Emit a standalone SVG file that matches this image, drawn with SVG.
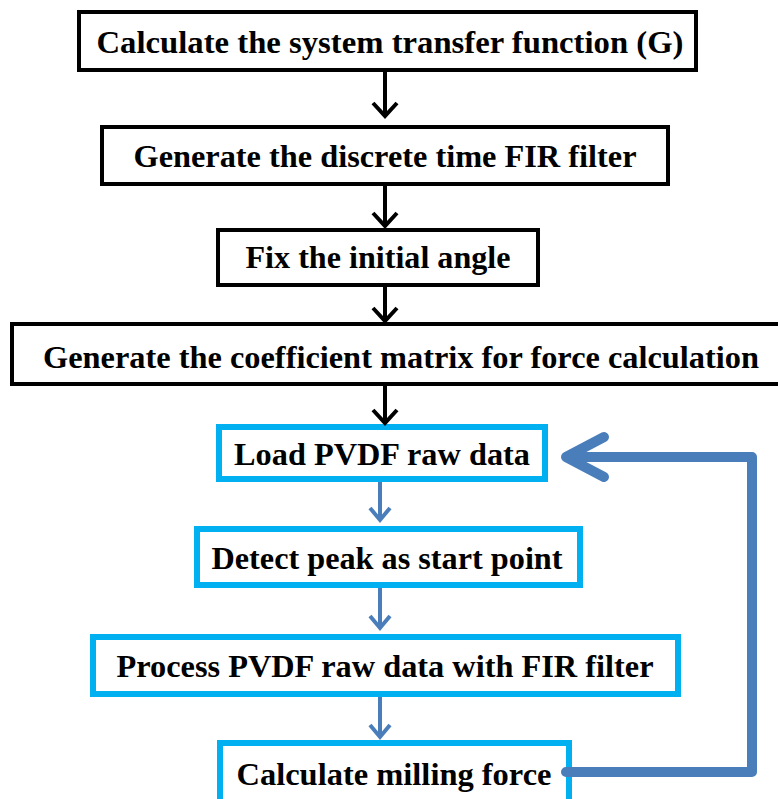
<svg xmlns="http://www.w3.org/2000/svg" width="778" height="799" viewBox="0 0 778 799">
<defs>
<style>
.bk{fill:#fff;stroke:#000;stroke-width:4}
.bl{fill:#fff;stroke:#00B0F0;stroke-width:6}
.t{font-family:"Liberation Serif","Times New Roman",serif;font-weight:bold;font-size:32px;fill:#000;text-anchor:middle}
.ca{fill:none;stroke:#000;stroke-width:4}
.cb{fill:none;stroke:#4A7EBB;stroke-width:4}
.fb{fill:none;stroke:#4A7EBB;stroke-width:10;stroke-linejoin:round;stroke-linecap:round}
</style>
</defs>
<g id="n1"><rect class="bk" x="79" y="12" width="617" height="58"/><text class="t" x="390" y="53" textLength="587" lengthAdjust="spacingAndGlyphs">Calculate the system transfer function (G)</text></g>
<g id="n2"><rect class="bk" x="102" y="127" width="566" height="57"/><text class="t" x="385" y="167" textLength="503" lengthAdjust="spacingAndGlyphs">Generate the discrete time FIR filter</text></g>
<g id="n3"><rect class="bk" x="218" y="230" width="320" height="55"/><text class="t" x="378" y="268" textLength="265" lengthAdjust="spacingAndGlyphs">Fix the initial angle</text></g>
<g id="n4"><rect class="bk" x="12" y="324" width="770" height="60"/><text class="t" x="401" y="368" textLength="716" lengthAdjust="spacingAndGlyphs">Generate the coefficient matrix for force calculation</text></g>
<g id="n5"><rect class="bl" x="219" y="427" width="326" height="52"/><text class="t" x="382" y="465" textLength="296" lengthAdjust="spacingAndGlyphs">Load PVDF raw data</text></g>
<g id="n6"><rect class="bl" x="197" y="529" width="383" height="56"/><text class="t" x="387" y="569" textLength="351" lengthAdjust="spacingAndGlyphs">Detect peak as start point</text></g>
<g id="n7"><rect class="bl" x="93" y="637" width="585" height="57"/><text class="t" x="385" y="677" textLength="537" lengthAdjust="spacingAndGlyphs">Process PVDF raw data with FIR filter</text></g>
<g id="n8"><rect class="bl" x="220" y="743" width="349" height="62"/><text class="t" x="394" y="785" textLength="315" lengthAdjust="spacingAndGlyphs">Calculate milling force</text></g>
<g id="connectors">
<path class="ca" d="M385 72V116M373 103L385 116L397 103"/>
<path class="ca" d="M385 186V226M373 213L385 226L397 213"/>
<path class="ca" d="M385 287V321M373 308L385 321L397 308"/>
<path class="ca" d="M385 386V423M373 410L385 423L397 410"/>
<path class="cb" d="M380 482V520M370 508L380 520L390 508"/>
<path class="cb" d="M380 588V628M370 616L380 628L390 616"/>
<path class="cb" d="M380 697V737M370 725L380 737L390 725"/>
<path class="fb" d="M566 772H752V457H570"/>
<path class="fb" d="M604 437L566 457L604 477"/>
</g>
</svg>
